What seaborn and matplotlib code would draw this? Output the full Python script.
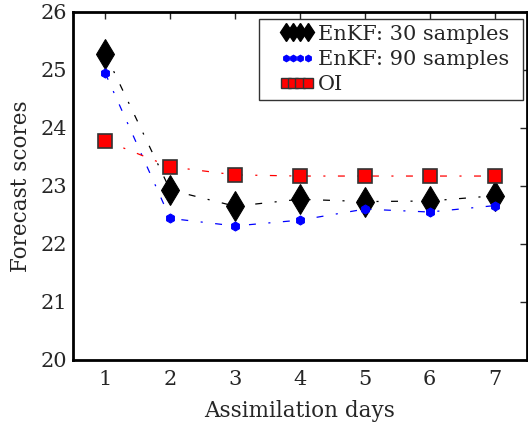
import matplotlib
matplotlib.use("Agg")
import matplotlib.pyplot as plt
from matplotlib.lines import Line2D
from matplotlib.legend_handler import HandlerLine2D
import seaborn as sns
import pandas as pd

days = [1, 2, 3, 4, 5, 6, 7]
enkf30 = [25.28, 22.93, 22.65, 22.77, 22.73, 22.74, 22.83]
enkf90 = [24.94, 22.44, 22.31, 22.41, 22.60, 22.55, 22.66]
oi = [23.78, 23.33, 23.19, 23.17, 23.17, 23.17, 23.17]
labels = ["EnKF: 30 samples", "EnKF: 90 samples", "OI"]

sns.set_style("white")
plt.rcParams['font.family'] = ['DejaVu Serif']
plt.rcParams.update({
    'xtick.direction': 'in', 'ytick.direction': 'in',
    'xtick.top': True, 'ytick.right': True,
    'xtick.major.size': 5, 'ytick.major.size': 5,
    'xtick.major.width': 1, 'ytick.major.width': 1,
    'lines.scale_dashes': False,
})

fig = plt.figure(figsize=(5.28, 4.23), dpi=100)
ax = fig.add_axes([0.138, 0.149, 0.860, 0.823])

df = pd.DataFrame({'day': days, 'e30': enkf30, 'e90': enkf90, 'oi': oi})
ls = (0, (5, 9, 1.5, 9))

sns.lineplot(data=df, x='day', y='e30', ax=ax, color='black', linestyle=ls,
             linewidth=0.9, marker='d', markersize=15.5, markerfacecolor='black',
             markeredgecolor='black', legend=False)
sns.lineplot(data=df, x='day', y='e90', ax=ax, color='blue', linestyle=ls,
             linewidth=0.9, marker='h', markersize=6.5, markerfacecolor='blue',
             markeredgecolor='blue', legend=False)
sns.lineplot(data=df, x='day', y='oi', ax=ax, color='red', linestyle=ls,
             linewidth=0.9, marker='s', markersize=10.5, markerfacecolor='red',
             markeredgecolor='#333333', markeredgewidth=1.2, legend=False)

ax.set_xlim(0.5, 7.5)
ax.set_ylim(20, 26)
ax.set_xticks(days)
ax.set_yticks([20, 21, 22, 23, 24, 25, 26])
ax.tick_params(axis='x', labelsize=15, pad=7)
ax.tick_params(axis='y', labelsize=15, pad=4)
ax.set_xlabel("Assimilation days", fontsize=15.5, labelpad=8)
ax.set_ylabel("Forecast scores", fontsize=15.5, labelpad=6)
for s in ax.spines.values():
    s.set_linewidth(2)
    s.set_color('black')

handles = [
    Line2D([], [], color='black', linestyle=ls, linewidth=0.9, marker='d',
           markersize=9.5, markerfacecolor='black', markeredgecolor='black'),
    Line2D([], [], color='blue', linestyle=ls, linewidth=0.9, marker='h',
           markersize=4.5, markerfacecolor='blue', markeredgecolor='blue'),
    Line2D([], [], color='red', linestyle=ls, linewidth=0.9, marker='s',
           markersize=7.3, markerfacecolor='red', markeredgecolor='#333333',
           markeredgewidth=1.0),
]
leg = ax.legend(handles, labels, loc='upper left',
                bbox_to_anchor=(0.41, 0.979, 0.581, 0.0),
                mode='expand', fontsize=15, fancybox=False,
                framealpha=1, edgecolor='#333333', handlelength=3.1,
                handletextpad=-0.55, borderpad=0.26, labelspacing=0.31,
                borderaxespad=0.0,
                handler_map={Line2D: HandlerLine2D(numpoints=4, marker_pad=1.03)})
leg.get_frame().set_linewidth(1)

fig.savefig("out.png", dpi=100)
